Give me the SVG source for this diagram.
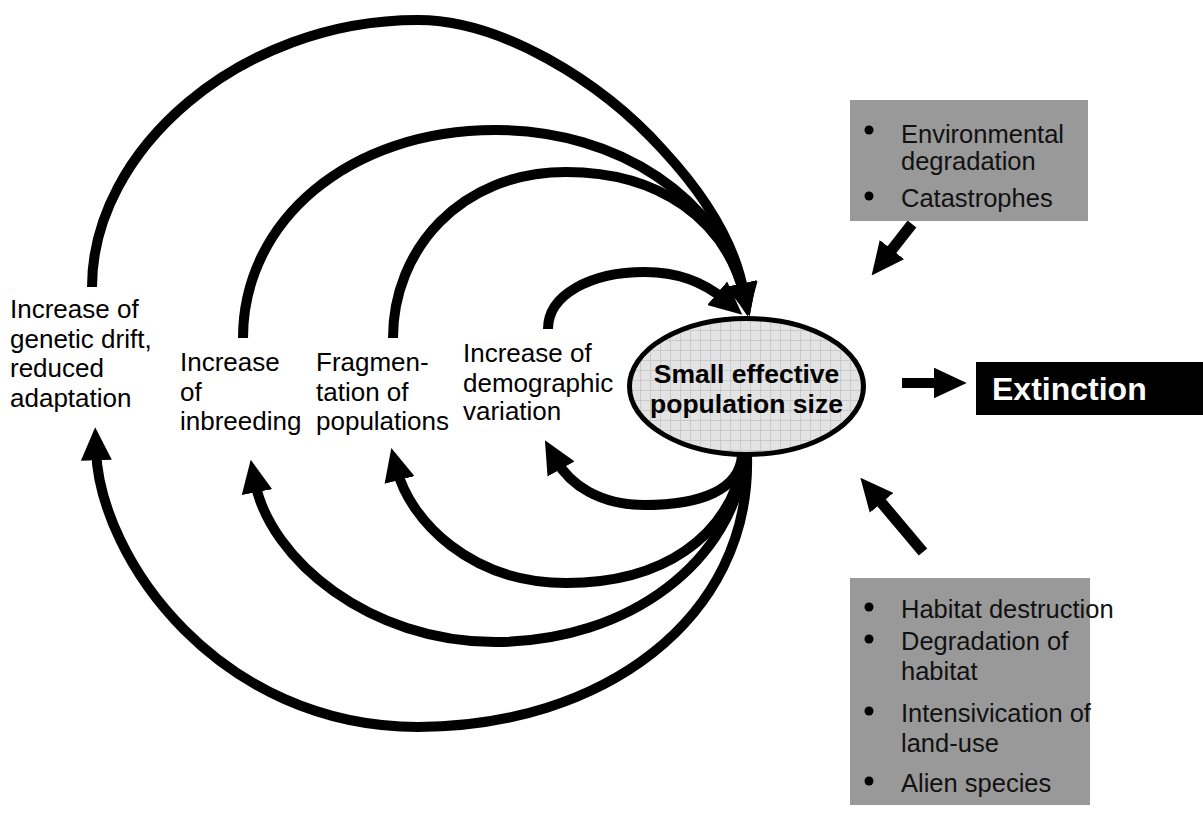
<svg xmlns="http://www.w3.org/2000/svg" width="1203" height="819" viewBox="0 0 1203 819">
<style>
.lbl{font-family:"Liberation Sans",Arial,sans-serif;font-size:26px;fill:#000}
.box{font-family:"Liberation Sans",Arial,sans-serif;font-size:25.5px;fill:#111}
.bold{font-family:"Liberation Sans",Arial,sans-serif;font-weight:bold}
.arc{fill:none;stroke:#000;stroke-width:10;marker-end:url(#ah)}
.bar{fill:none;stroke:#000;stroke-width:11;marker-end:url(#ah)}
.panel{fill:#999999}
</style>
<defs>
<marker id="ah" markerUnits="userSpaceOnUse" markerWidth="33" markerHeight="31" viewBox="0 0 32 30" refX="10" refY="15" orient="auto">
<path d="M0,0 L32,15 L0,30 z" fill="#000"/>
</marker>
<pattern id="grid" width="10" height="10" patternUnits="userSpaceOnUse">
<rect width="10" height="10" fill="#e3e3e3"/>
<path d="M0,0.5 H10 M0.5,0 V10" stroke="#cacaca" stroke-width="1"/>
</pattern>
</defs>

<g id="connectors">
<!-- top arcs into the ellipse -->
<path class="arc" d="M92,287 C92,150 240,20 418,20 C500,20 600,80 663,150 C700,190 735,240 744,294"/>
<path class="arc" d="M243,338 C243,220 350,130 495,130 C620,130 720,200 744,294"/>
<path class="arc" d="M393,338 C393,250 460,172 566,172 C660,172 725,220 744,294"/>
<path class="arc" d="M548,329 C548,295 590,272 645,272 C680,272 705,283 725,300"/>
<!-- bottom arcs out of the ellipse -->
<path class="arc" d="M747,455 C752,620 600,727 418,727 C220,727 100,560 96,450"/>
<path class="arc" d="M745,455 C735,560 630,642 495,642 C370,642 270,560 255,482"/>
<path class="arc" d="M745,455 C730,540 660,583 566,583 C470,583 410,520 397,470"/>
<path class="arc" d="M742,455 C740,490 700,505 645,505 C600,505 570,485 556,460"/>
<!-- straight arrows -->
<path class="bar" d="M912,224 L885.6,257.7"/>
<path class="bar" d="M923,552 L875,495"/>
<path class="arc" d="M902,383 L944,383"/>
</g>

<g id="node-genetic-drift">
<text class="lbl" x="10" y="318">Increase of</text>
<text class="lbl" x="10" y="348">genetic drift,</text>
<text class="lbl" x="10" y="377">reduced</text>
<text class="lbl" x="10" y="407">adaptation</text>
</g>

<g id="node-inbreeding">
<text class="lbl" x="180" y="371">Increase</text>
<text class="lbl" x="180" y="401">of</text>
<text class="lbl" x="180" y="430">inbreeding</text>
</g>

<g id="node-fragmentation">
<text class="lbl" x="316" y="371">Fragmen-</text>
<text class="lbl" x="316" y="401">tation of</text>
<text class="lbl" x="316" y="430">populations</text>
</g>

<g id="node-demographic">
<text class="lbl" x="463" y="362">Increase of</text>
<text class="lbl" x="463" y="392">demographic</text>
<text class="lbl" x="463" y="420">variation</text>
</g>

<g id="node-small-population">
<ellipse cx="746.5" cy="386.5" rx="117" ry="68" fill="url(#grid)" stroke="#000" stroke-width="5"/>
<text class="bold" font-size="26.5" x="746.5" y="383" text-anchor="middle">Small effective</text>
<text class="bold" font-size="26.5" x="746.5" y="413" text-anchor="middle">population size</text>
</g>

<g id="node-extinction">
<rect x="976" y="362" width="227" height="53" fill="#000"/>
<text class="bold" font-size="32" fill="#fff" x="992" y="400">Extinction</text>
</g>

<g id="node-environmental">
<rect class="panel" x="850" y="100" width="238" height="121"/>
<circle cx="869" cy="130" r="4.5" fill="#000"/>
<text class="box" x="901" y="143">Environmental</text>
<text class="box" x="901" y="170">degradation</text>
<circle cx="869" cy="196" r="4.5" fill="#000"/>
<text class="box" x="901" y="207">Catastrophes</text>
</g>

<g id="node-habitat">
<rect class="panel" x="850" y="578" width="240" height="227"/>
<circle cx="869" cy="607" r="4.5" fill="#000"/>
<text class="box" x="901" y="618">Habitat destruction</text>
<circle cx="869" cy="639" r="4.5" fill="#000"/>
<text class="box" x="901" y="650">Degradation of</text>
<text class="box" x="901" y="680">habitat</text>
<circle cx="869" cy="711" r="4.5" fill="#000"/>
<text class="box" x="901" y="722">Intensivication of</text>
<text class="box" x="901" y="752">land-use</text>
<circle cx="869" cy="781" r="4.5" fill="#000"/>
<text class="box" x="901" y="792">Alien species</text>
</g>
</svg>
